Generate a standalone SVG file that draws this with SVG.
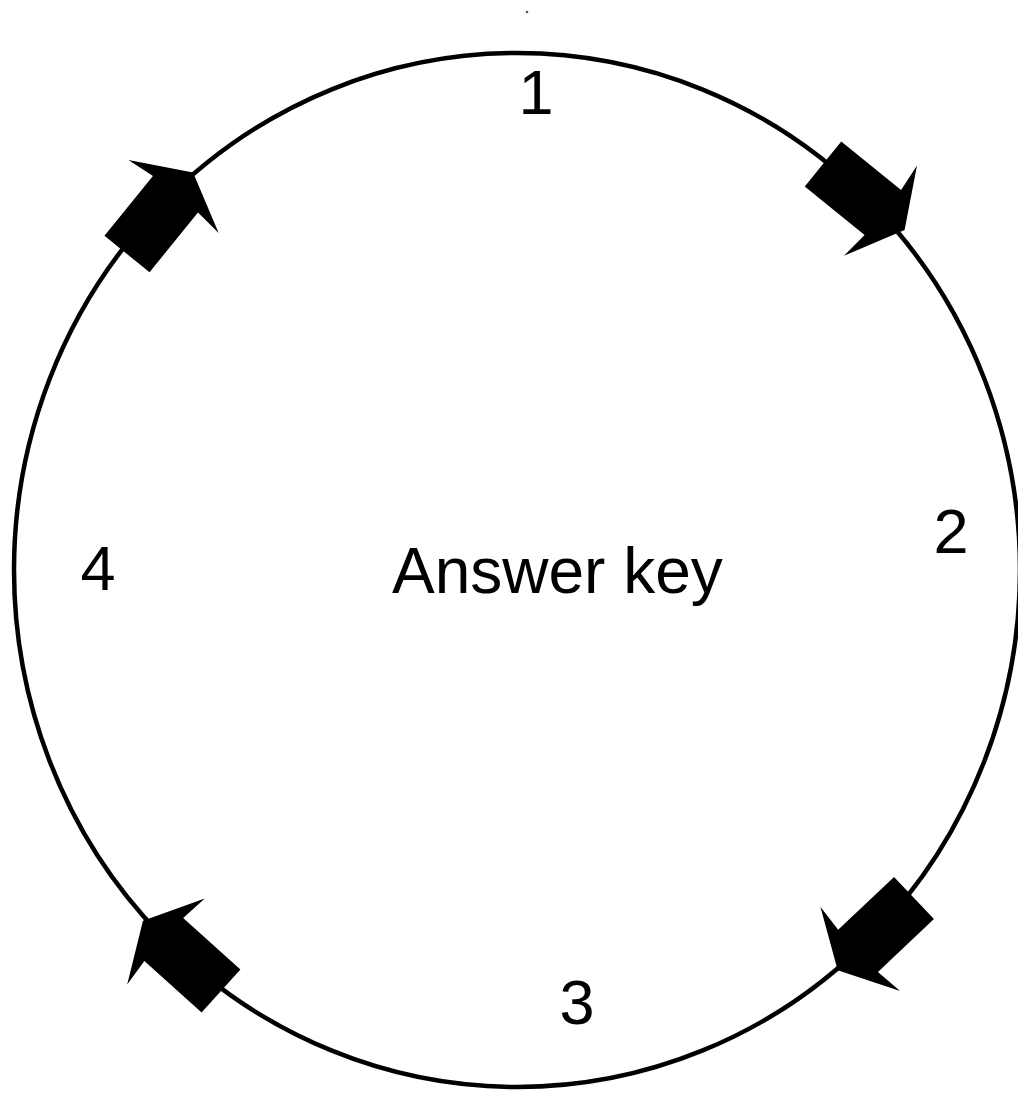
<svg xmlns="http://www.w3.org/2000/svg" width="1018" height="1093" viewBox="0 0 1018 1093">
  <style>
    .lbl { font-family: "Liberation Sans", Arial, sans-serif; font-size: 63px; fill: #000; }
    .ring { fill: none; stroke: #000; stroke-width: 4.5; }
    .arr { fill: #000; stroke: none; }
  </style>
  <defs>
    <path id="arrowShape" d="M0,-29 L77,-29 L74,-58 L105,0 L74,58 L77,29 L0,29 Z"/>
  </defs>
  <rect width="1018" height="1093" fill="#fff"/>
  <circle cx="527" cy="12" r="1.3" fill="#555"/>
  <g id="connectors">
    <ellipse class="ring" cx="517" cy="570" rx="503" ry="517"/>
    <use class="arr" href="#arrowShape" transform="translate(823,164) rotate(39)"/>
    <use class="arr" href="#arrowShape" transform="translate(914,898) rotate(136.6)"/>
    <use class="arr" href="#arrowShape" transform="translate(221,991) rotate(-138)"/>
    <use class="arr" href="#arrowShape" transform="translate(127,254) rotate(-51)"/>
  </g>
  <g id="node-center"><text class="lbl" x="392" y="593" style="font-size:64px">Answer key</text></g>
  <g id="node-1"><text class="lbl" x="536" y="114" text-anchor="middle">1</text></g>
  <g id="node-2"><text class="lbl" x="951" y="553" text-anchor="middle">2</text></g>
  <g id="node-3"><text class="lbl" x="577" y="1024" text-anchor="middle">3</text></g>
  <g id="node-4"><text class="lbl" x="98" y="590" text-anchor="middle">4</text></g>
</svg>
